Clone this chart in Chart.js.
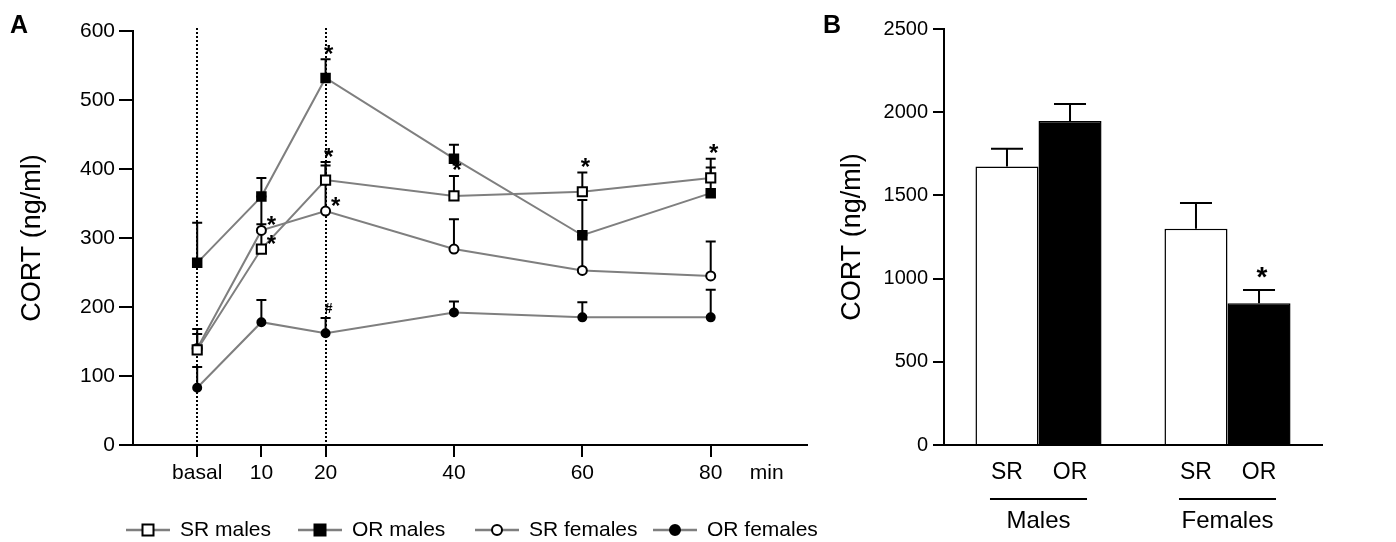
<!DOCTYPE html>
<html>
<head>
<meta charset="utf-8">
<script src="https://cdn.jsdelivr.net/npm/chart.js@4.4.1/dist/chart.umd.min.js"></script>
<style>
body{margin:0;background:#fff;width:1396px;height:542px;position:relative;overflow:hidden;font-family:"Liberation Sans",Arial,sans-serif}
#a{position:absolute;left:0;top:0}
#b{position:absolute;left:820px;top:0}
.lab{position:absolute;font-weight:bold;font-size:25px;line-height:1}
</style>
</head>
<body>
<canvas id="a" width="820" height="542"></canvas>
<canvas id="b" width="576" height="542"></canvas>
<div class="lab" style="left:10px;top:12px">A</div>
<div class="lab" style="left:823px;top:12px">B</div>
<script>
Chart.defaults.font.family = '"Liberation Sans", Arial, sans-serif';
Chart.defaults.color = '#000';

//===== panel A data (time course)
var minutes = [0, 10, 20, 40, 60, 80];
var minuteLabels = ['basal', '10', '20', '40', '60', '80'];
var srMales = [138, 284, 384, 361, 367, 387];
var srMalesSem = [30, 36, 26, 29, 28, 28];
var orMales = [264, 360, 532, 415, 304, 365];
var orMalesSem = [58, 27, 27, 20, 51, 37];
var srFemales = [140, 311, 339, 284, 253, 245];
var srFemalesSem = [21, 49, 66, 43, 51, 50];
var orFemales = [83, 178, 162, 192, 185, 185];
var orFemalesSem = [30, 32, 22, 16, 22, 40];
var dottedAt = [0, 20];
// [series, point, symbol, where]
var marksA = [[1, 2, '*', 'top'], [0, 2, '*', 'top'], [2, 2, '*', 'side'], [2, 1, '*', 'side'],
              [0, 1, '*', 'side'], [0, 3, '*', 'top'], [0, 4, '*', 'top'], [0, 5, '*', 'top'], [3, 2, '#', 'top']];

//===== panel B data (bars)
var groups = ['Males', 'Females'];
var subLabels = ['SR', 'OR'];
var barSR = [1674, 1299];
var barSRSem = [106, 156];
var barOR = [1947, 852];
var barORSem = [102, 80];
var marksB = [[1, 1, '*', 'top']];

function pts(vals) {
  return minutes.map(function (m, i) { return { x: m, y: vals[i] }; });
}

function drawErrors(chart, sems, capHalf) {
  var ctx = chart.ctx, ys = chart.scales.y;
  ctx.save();
  ctx.strokeStyle = '#000';
  ctx.lineWidth = 2;
  sems.forEach(function (sem, i) {
    var ds = chart.data.datasets[i];
    chart.getDatasetMeta(i).data.forEach(function (el, j) {
      var v = ds.data[j];
      v = typeof v === 'object' ? v.y : v;
      var top = ys.getPixelForValue(v + sem[j]);
      ctx.beginPath();
      ctx.moveTo(el.x, el.y);
      ctx.lineTo(el.x, top);
      ctx.moveTo(el.x - capHalf, top);
      ctx.lineTo(el.x + capHalf, top);
      ctx.stroke();
    });
  });
  ctx.restore();
}

function drawMarks(chart, marks, sems, size, gap) {
  var ctx = chart.ctx, ys = chart.scales.y;
  ctx.save();
  ctx.fillStyle = '#000';
  ctx.textAlign = 'center';
  marks.forEach(function (mk) {
    var ds = chart.data.datasets[mk[0]];
    var el = chart.getDatasetMeta(mk[0]).data[mk[1]];
    var v = ds.data[mk[1]];
    v = typeof v === 'object' ? v.y : v;
    if (mk[2] === '#') ctx.font = 'bold ' + Math.round(size * 0.6) + 'px "Liberation Sans", Arial, sans-serif';
    else ctx.font = 'bold ' + size + 'px "Liberation Sans", Arial, sans-serif';
    var cx, cy;
    if (mk[3] === 'top') {
      cx = el.x + 3;
      cy = ys.getPixelForValue(v + sems[mk[0]][mk[1]]) - gap;
    } else {
      cx = el.x + 10;
      cy = el.y - 10;
    }
    var m = ctx.measureText(mk[2]);
    ctx.fillText(mk[2], cx, cy + (m.actualBoundingBoxAscent - m.actualBoundingBoxDescent) / 2);
  });
  ctx.restore();
}

function marker(ctx, style, fill, r, x, y) {
  ctx.beginPath();
  if (style === 'rect') ctx.rect(x - r, y - r, 2 * r, 2 * r);
  else ctx.arc(x, y, r, 0, Math.PI * 2);
  ctx.fillStyle = fill;
  ctx.fill();
  ctx.lineWidth = 2;
  ctx.strokeStyle = '#000';
  ctx.stroke();
}

var semsA = [srMalesSem, orMalesSem, srFemalesSem, orFemalesSem];
var legendX = [126, 298, 475, 653];

var panelA = {
  id: 'panelA',
  beforeDatasetsDraw: function (chart) {
    var ctx = chart.ctx, xs = chart.scales.x, area = chart.chartArea;
    ctx.save();
    ctx.strokeStyle = '#000';
    ctx.lineWidth = 2;
    ctx.setLineDash([2, 2]);
    dottedAt.forEach(function (v) {
      var x = Math.round(xs.getPixelForValue(v));
      ctx.beginPath();
      ctx.moveTo(x, area.top - 3);
      ctx.lineTo(x, area.bottom);
      ctx.stroke();
    });
    ctx.restore();
    drawErrors(chart, semsA, 5);
  },
  afterDraw: function (chart) {
    var ctx = chart.ctx, xs = chart.scales.x;
    drawMarks(chart, marksA, semsA, 24, 10);
    ctx.save();
    ctx.font = '21px "Liberation Sans", Arial, sans-serif';
    ctx.fillStyle = '#000';
    ctx.textAlign = 'center';
    ctx.textBaseline = 'middle';
    ctx.fillText('min', xs.getPixelForValue(80) + 56, 473);
    // legend: line + marker + label
    chart.data.datasets.forEach(function (ds, i) {
      var x0 = legendX[i], y = 530;
      ctx.strokeStyle = '#7f7f7f';
      ctx.lineWidth = 2.5;
      ctx.beginPath();
      ctx.moveTo(x0, y);
      ctx.lineTo(x0 + 44, y);
      ctx.stroke();
      marker(ctx, ds.pointStyle, ds.pointBackgroundColor, ds.pointStyle === 'rect' ? 5.5 : 5, x0 + 22, y);
      ctx.fillStyle = '#000';
      ctx.font = '21px "Liberation Sans", Arial, sans-serif';
      ctx.textAlign = 'left';
      ctx.fillText(ds.label, x0 + 54, y);
    });
    ctx.restore();
  }
};

function lineSet(label, vals, style, fill, r) {
  return {
    label: label,
    data: pts(vals),
    borderColor: '#7f7f7f',
    borderWidth: 2,
    pointStyle: style,
    pointRadius: r,
    pointBackgroundColor: fill,
    pointBorderColor: '#000',
    pointBorderWidth: 2,
    tension: 0
  };
}

new Chart(document.getElementById('a'), {
  type: 'line',
  data: {
    datasets: [
      lineSet('SR males', srMales, 'rect', '#fff', 6.5),
      lineSet('OR males', orMales, 'rect', '#000', 6),
      lineSet('SR females', srFemales, 'circle', '#fff', 4.5),
      lineSet('OR females', orFemales, 'circle', '#000', 4)
    ]
  },
  options: {
    responsive: false,
    animation: false,
    layout: { padding: { top: 31, right: 13, bottom: 0, left: 0 } },
    plugins: { legend: { display: false }, tooltip: { enabled: false } },
    scales: {
      x: {
        type: 'linear', min: -10, max: 95,
        afterBuildTicks: function (s) { s.ticks = minutes.map(function (v) { return { value: v }; }); },
        ticks: {
          autoSkip: false, maxRotation: 0, padding: 4, font: { size: 21 },
          callback: function (v) { return minuteLabels[minutes.indexOf(v)]; }
        },
        grid: { drawOnChartArea: false, tickLength: 12, color: '#000', lineWidth: 2 },
        border: { color: '#000', width: 2 },
        afterFit: function (s) { s.height = 97; }
      },
      y: {
        min: 0, max: 600,
        ticks: { stepSize: 100, padding: 4, font: { size: 21 } },
        grid: { drawOnChartArea: false, tickLength: 14, color: '#000', lineWidth: 2 },
        border: { color: '#000', width: 2 },
        title: { display: true, text: 'CORT (ng/ml)', font: { size: 27 }, padding: { top: 16, bottom: 0 } },
        afterFit: function (s) { s.width = 133; }
      }
    }
  },
  plugins: [panelA]
});

var semsB = [barSRSem, barORSem];

var panelB = {
  id: 'panelB',
  afterDatasetsDraw: function (chart) {
    drawErrors(chart, semsB, 16);
  },
  afterDraw: function (chart) {
    var ctx = chart.ctx, xs = chart.scales.x;
    drawMarks(chart, marksB, semsB, 28, 17);
    ctx.save();
    ctx.fillStyle = '#000';
    ctx.strokeStyle = '#000';
    ctx.textAlign = 'center';
    ctx.textBaseline = 'middle';
    ctx.font = '23px "Liberation Sans", Arial, sans-serif';
    var first = chart.getDatasetMeta(0).data, last = chart.getDatasetMeta(1).data;
    subLabels.forEach(function (t, d) {
      chart.getDatasetMeta(d).data.forEach(function (el) {
        ctx.fillText(t, el.x, 473);
      });
    });
    groups.forEach(function (g, i) {
      ctx.lineWidth = 2;
      ctx.beginPath();
      ctx.moveTo(first[i].x - 17, 499);
      ctx.lineTo(last[i].x + 17, 499);
      ctx.stroke();
      ctx.font = '24px "Liberation Sans", Arial, sans-serif';
      ctx.fillText(g, xs.getPixelForTick(i), 521);
    });
    ctx.restore();
  }
};

new Chart(document.getElementById('b'), {
  type: 'bar',
  data: {
    labels: groups,
    datasets: [
      { label: 'SR', data: barSR, backgroundColor: '#fff', borderColor: '#000', borderWidth: 1.5 },
      { label: 'OR', data: barOR, backgroundColor: '#000', borderColor: '#000', borderWidth: 1.5 }
    ]
  },
  options: {
    responsive: false,
    animation: false,
    datasets: { bar: { categoryPercentage: 0.667, barPercentage: 1 } },
    layout: { padding: { top: 29, right: 74, bottom: 0, left: 0 } },
    plugins: { legend: { display: false }, tooltip: { enabled: false } },
    scales: {
      x: {
        grid: { display: false },
        ticks: { display: false },
        border: { color: '#000', width: 2 },
        afterFit: function (s) { s.height = 97; }
      },
      y: {
        min: 0, max: 2500,
        ticks: { stepSize: 500, padding: 5, font: { size: 20 }, callback: function (v) { return String(v); } },
        grid: { drawOnChartArea: false, tickLength: 11, color: '#000', lineWidth: 2 },
        border: { color: '#000', width: 2 },
        title: { display: true, text: 'CORT (ng/ml)', font: { size: 27 }, padding: { top: 16, bottom: 0 } },
        afterFit: function (s) { s.width = 124; }
      }
    }
  },
  plugins: [panelB]
});
</script>
</body>
</html>
